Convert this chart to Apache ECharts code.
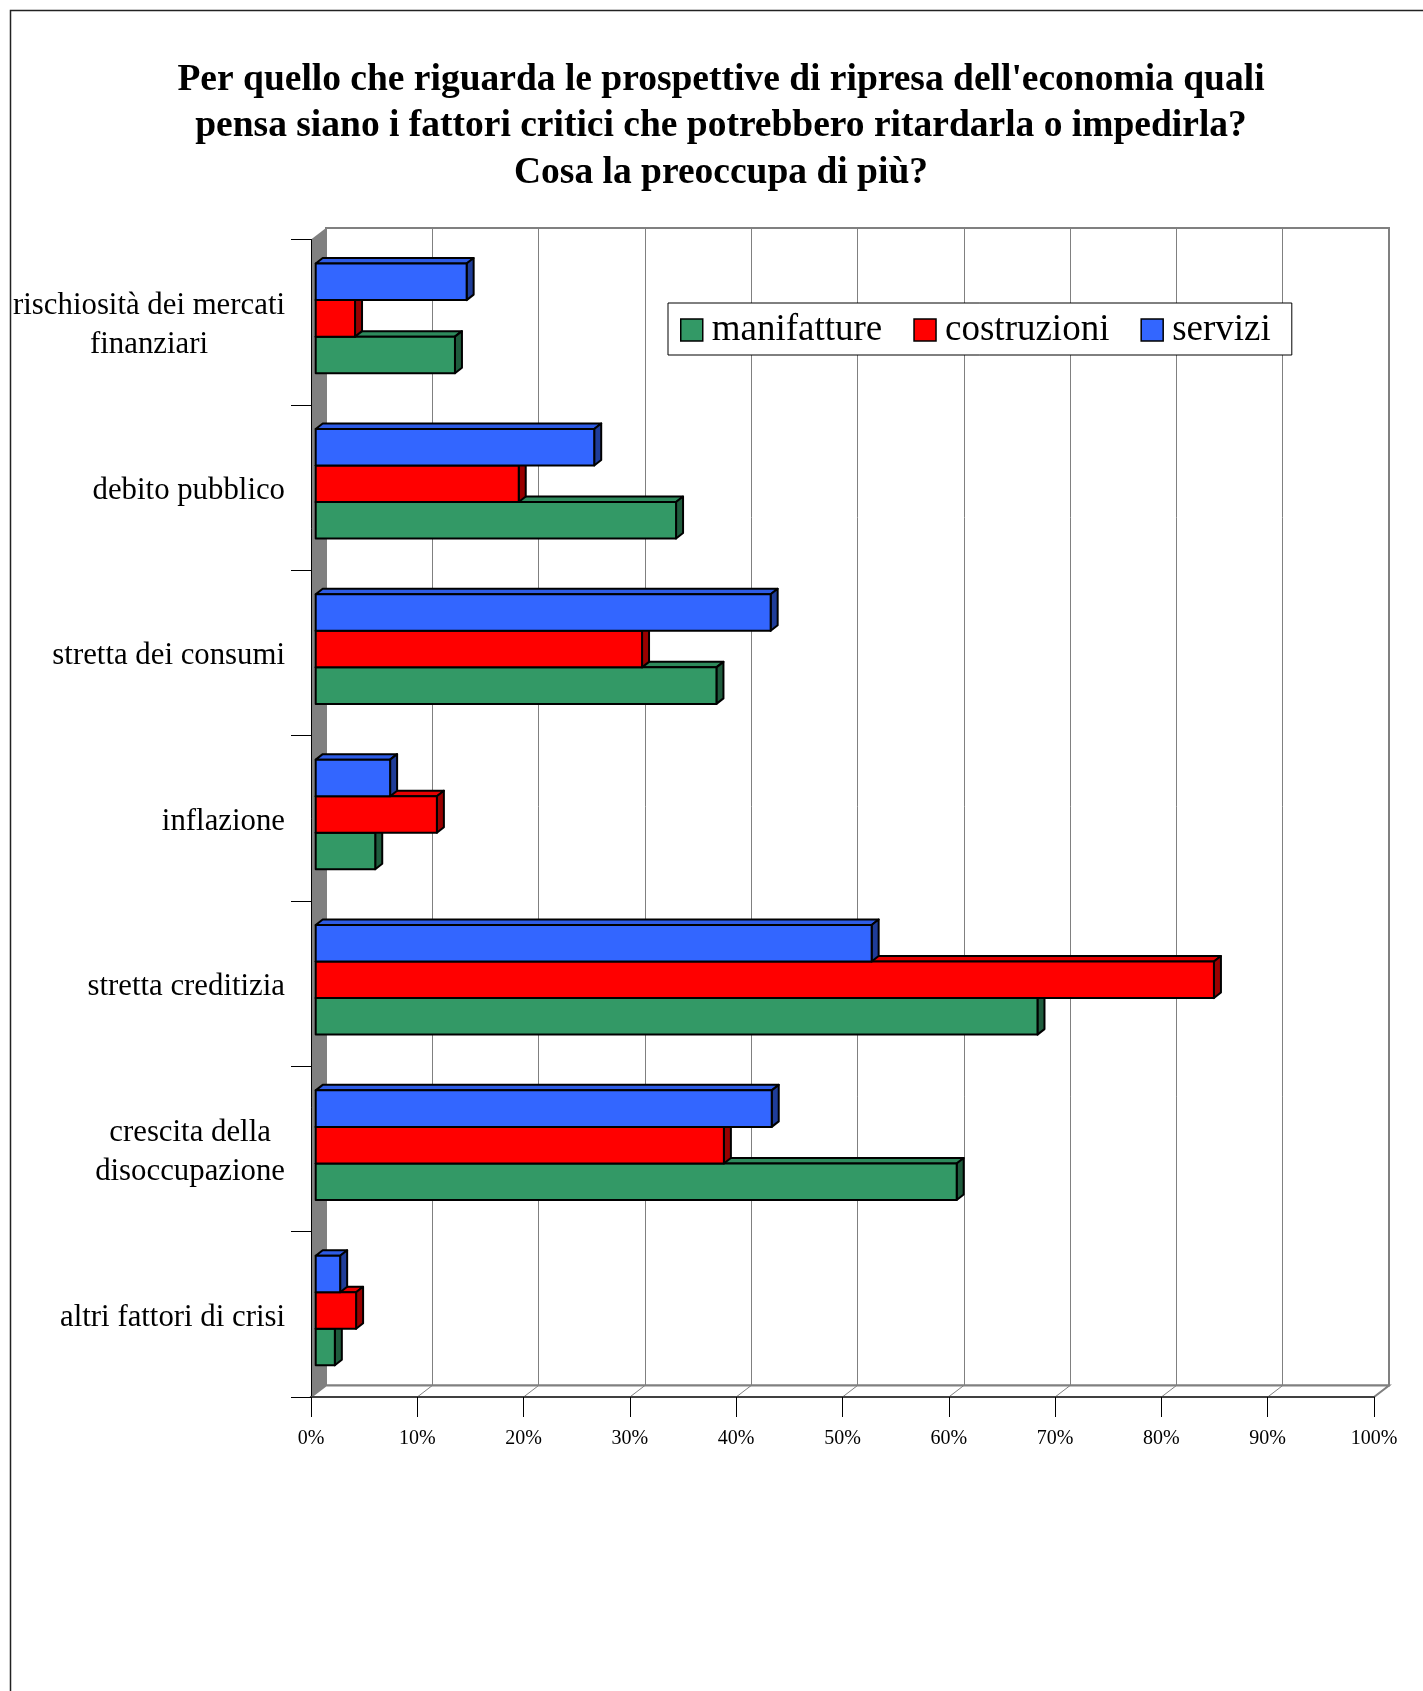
<!DOCTYPE html>
<html><head><meta charset="utf-8">
<script src="https://cdn.jsdelivr.net/npm/echarts@6/dist/echarts.min.js"></script>
<style>html,body{margin:0;padding:0;background:#fff}#c{width:1423px;height:1691px}</style>
</head><body><div id="c"></div>
<script>
// ---- data ----
const titleText = "Per quello che riguarda le prospettive di ripresa dell'economia quali\npensa siano i fattori critici che potrebbero ritardarla o impedirla?\nCosa la preoccupa di più?";
const categories = ["rischiosità dei mercati\nfinanziari", "debito pubblico", "stretta dei consumi", "inflazione", "stretta creditizia", "crescita della\ndisoccupazione", "altri fattori di crisi"];
const seriesNames = ["manifatture", "costruzioni", "servizi"];
const manifatture = [13.1, 33.9, 37.7, 5.6, 67.9, 60.3, 1.8];
const costruzioni = [3.7, 19.1, 30.7, 11.4, 84.5, 38.4, 3.8];
const servizi = [14.2, 26.2, 42.8, 7.0, 52.3, 42.9, 2.3];
const xTickValues = [0, 10, 20, 30, 40, 50, 60, 70, 80, 90, 100];
const colors = ["#339966", "#FF0000", "#3366FF"];

// ---- layout ----
const FRONT = {left: 311, top: 239.5, width: 1063, height: 1157.5};
const DEPTH = [15, -11.5];
const BAR_SHIFT = [4.7, -3.8];
const BAR_DEPTH = [7, -5.5];
const CAT_GAP = 0.337;
const TITLE_X = 721;
const SERIF = "'Liberation Serif','Times New Roman',serif";

function shade(hex, f) {
  const n = parseInt(hex.slice(1), 16);
  const r = Math.round(((n >> 16) & 255) * f), g = Math.round(((n >> 8) & 255) * f), b = Math.round((n & 255) * f);
  return 'rgb(' + r + ',' + g + ',' + b + ')';
}

const seriesData = [manifatture, costruzioni, servizi];
const N = seriesData.length;

function makeRender(s) {
  return function (params, api) {
    const v = api.value(0), c = api.value(1);
    const base = api.coord([0, c]);
    const end = api.coord([v, c]);
    const band = api.size([0, 1])[1];
    const h = band * (1 - CAT_GAP) / N;
    const top = base[1] - (N / 2) * h + (N - 1 - s) * h + BAR_SHIFT[1];
    const x0 = base[0] + BAR_SHIFT[0], x1 = end[0] + BAR_SHIFT[0];
    const dx = BAR_DEPTH[0], dy = BAR_DEPTH[1];
    const col = colors[s];
    const ls = {stroke: '#000', lineWidth: 2, lineJoin: 'round'};
    return {type: 'group', children: [
      {type: 'polygon', shape: {points: [[x0, top], [x0 + dx, top + dy], [x1 + dx, top + dy], [x1, top]]}, style: Object.assign({fill: shade(col, 0.9)}, ls)},
      {type: 'polygon', shape: {points: [[x1, top], [x1 + dx, top + dy], [x1 + dx, top + h + dy], [x1, top + h]]}, style: Object.assign({fill: shade(col, 0.6)}, ls)},
      {type: 'rect', shape: {x: x0, y: top, width: x1 - x0, height: h}, style: Object.assign({fill: col}, ls)}
    ]};
  };
}

const L = FRONT.left, T = FRONT.top, R = L + FRONT.width, B = T + FRONT.height;
const DX = DEPTH[0], DY = DEPTH[1];
const graphics = [
  {type: 'rect', z: 0, shape: {x: 10.5, y: 10.5, width: 2000, height: 2000}, style: {fill: 'none', stroke: '#222', lineWidth: 1.5}},
  {type: 'polygon', z: 1, shape: {points: [[L, T], [L + DX, T + DY], [L + DX, B + DY], [L, B]]}, style: {fill: '#808080'}},
  {type: 'polygon', z: 1, shape: {points: [[L, B], [L + DX, B + DY], [R + DX, B + DY], [R, B]]}, style: {fill: '#fff', stroke: '#808080', lineWidth: 2}}
];
xTickValues.forEach(function (t) {
  if (t === 0) return;
  const x = L + FRONT.width * t / 100;
  graphics.push({type: 'line', z: 1, shape: {x1: x + DX, y1: B + DY, x2: x, y2: B}, style: {stroke: '#808080', lineWidth: 1}});
});

const chart = echarts.init(document.getElementById('c'), null, {renderer: 'canvas'});
chart.setOption({
  animation: false,
  backgroundColor: '#fff',
  title: {
    text: titleText, left: TITLE_X, top: 57, textAlign: 'center', padding: 0,
    textStyle: {fontFamily: SERIF, fontWeight: 'bold', fontSize: 37.5, lineHeight: 46.5, color: '#000'}
  },
  legend: {
    left: 668, top: 303, orient: 'horizontal',
    padding: [4, 21, 2, 12], itemGap: 31, itemWidth: 22, itemHeight: 22,
    backgroundColor: '#fff', borderColor: '#000', borderWidth: 1, z: 10,
    textStyle: {fontFamily: SERIF, fontSize: 37, color: '#000', lineHeight: 40, padding: [6, 0, 0, 4]},
    data: seriesNames.map(function (n, i) { return {name: n, icon: 'rect', itemStyle: {color: colors[i], borderColor: '#000', borderWidth: 1.5}}; })
  },
  grid: [
    {left: L, top: T, width: FRONT.width, height: FRONT.height, containLabel: false},
    {left: L + DX, top: T + DY, width: FRONT.width, height: FRONT.height, show: true, backgroundColor: '#fff', borderColor: '#808080', borderWidth: 2, z: 0}
  ],
  xAxis: [
    {type: 'value', gridIndex: 0, min: 0, max: 100, interval: 10, z: 5,
      axisLine: {show: true, lineStyle: {color: '#404040', width: 2}},
      axisTick: {show: true, length: 20, lineStyle: {color: '#000', width: 1}},
      splitLine: {show: false},
      axisLabel: {formatter: '{value}%', fontFamily: SERIF, fontSize: 20, color: '#000', margin: 32}},
    {type: 'value', gridIndex: 1, min: 0, max: 100, interval: 10, z: 0,
      axisLine: {show: false}, axisTick: {show: false}, axisLabel: {show: false},
      splitLine: {show: true, lineStyle: {color: '#808080', width: 1}}}
  ],
  yAxis: [
    {type: 'category', gridIndex: 0, inverse: true, data: categories, z: 5,
      axisLine: {show: true, lineStyle: {color: '#000', width: 1}},
      axisTick: {show: true, length: 20, lineStyle: {color: '#000', width: 1}},
      axisLabel: {margin: 26, color: '#000', fontFamily: SERIF, fontSize: 30.8, lineHeight: 39, padding: [7, 0, 0, 0],
        formatter: function (v) { return v.split('\n').map(function (l) { return '{c|' + l + '}'; }).join('\n'); },
        rich: {c: {align: 'center', fontFamily: SERIF, fontSize: 30.8, lineHeight: 39, color: '#000'}}}},
    {type: 'value', gridIndex: 1, show: false}
  ],
  graphic: graphics,
  series: seriesData.map(function (arr, s) {
    return {
      type: 'custom', name: seriesNames[s], xAxisIndex: 0, yAxisIndex: 0, z: 3,
      itemStyle: {color: colors[s], borderColor: '#000', borderWidth: 1.5},
      encode: {x: 0, y: 1},
      renderItem: makeRender(s),
      data: arr.map(function (v, i) { return [v, i]; })
    };
  })
});
</script>
</body></html>
